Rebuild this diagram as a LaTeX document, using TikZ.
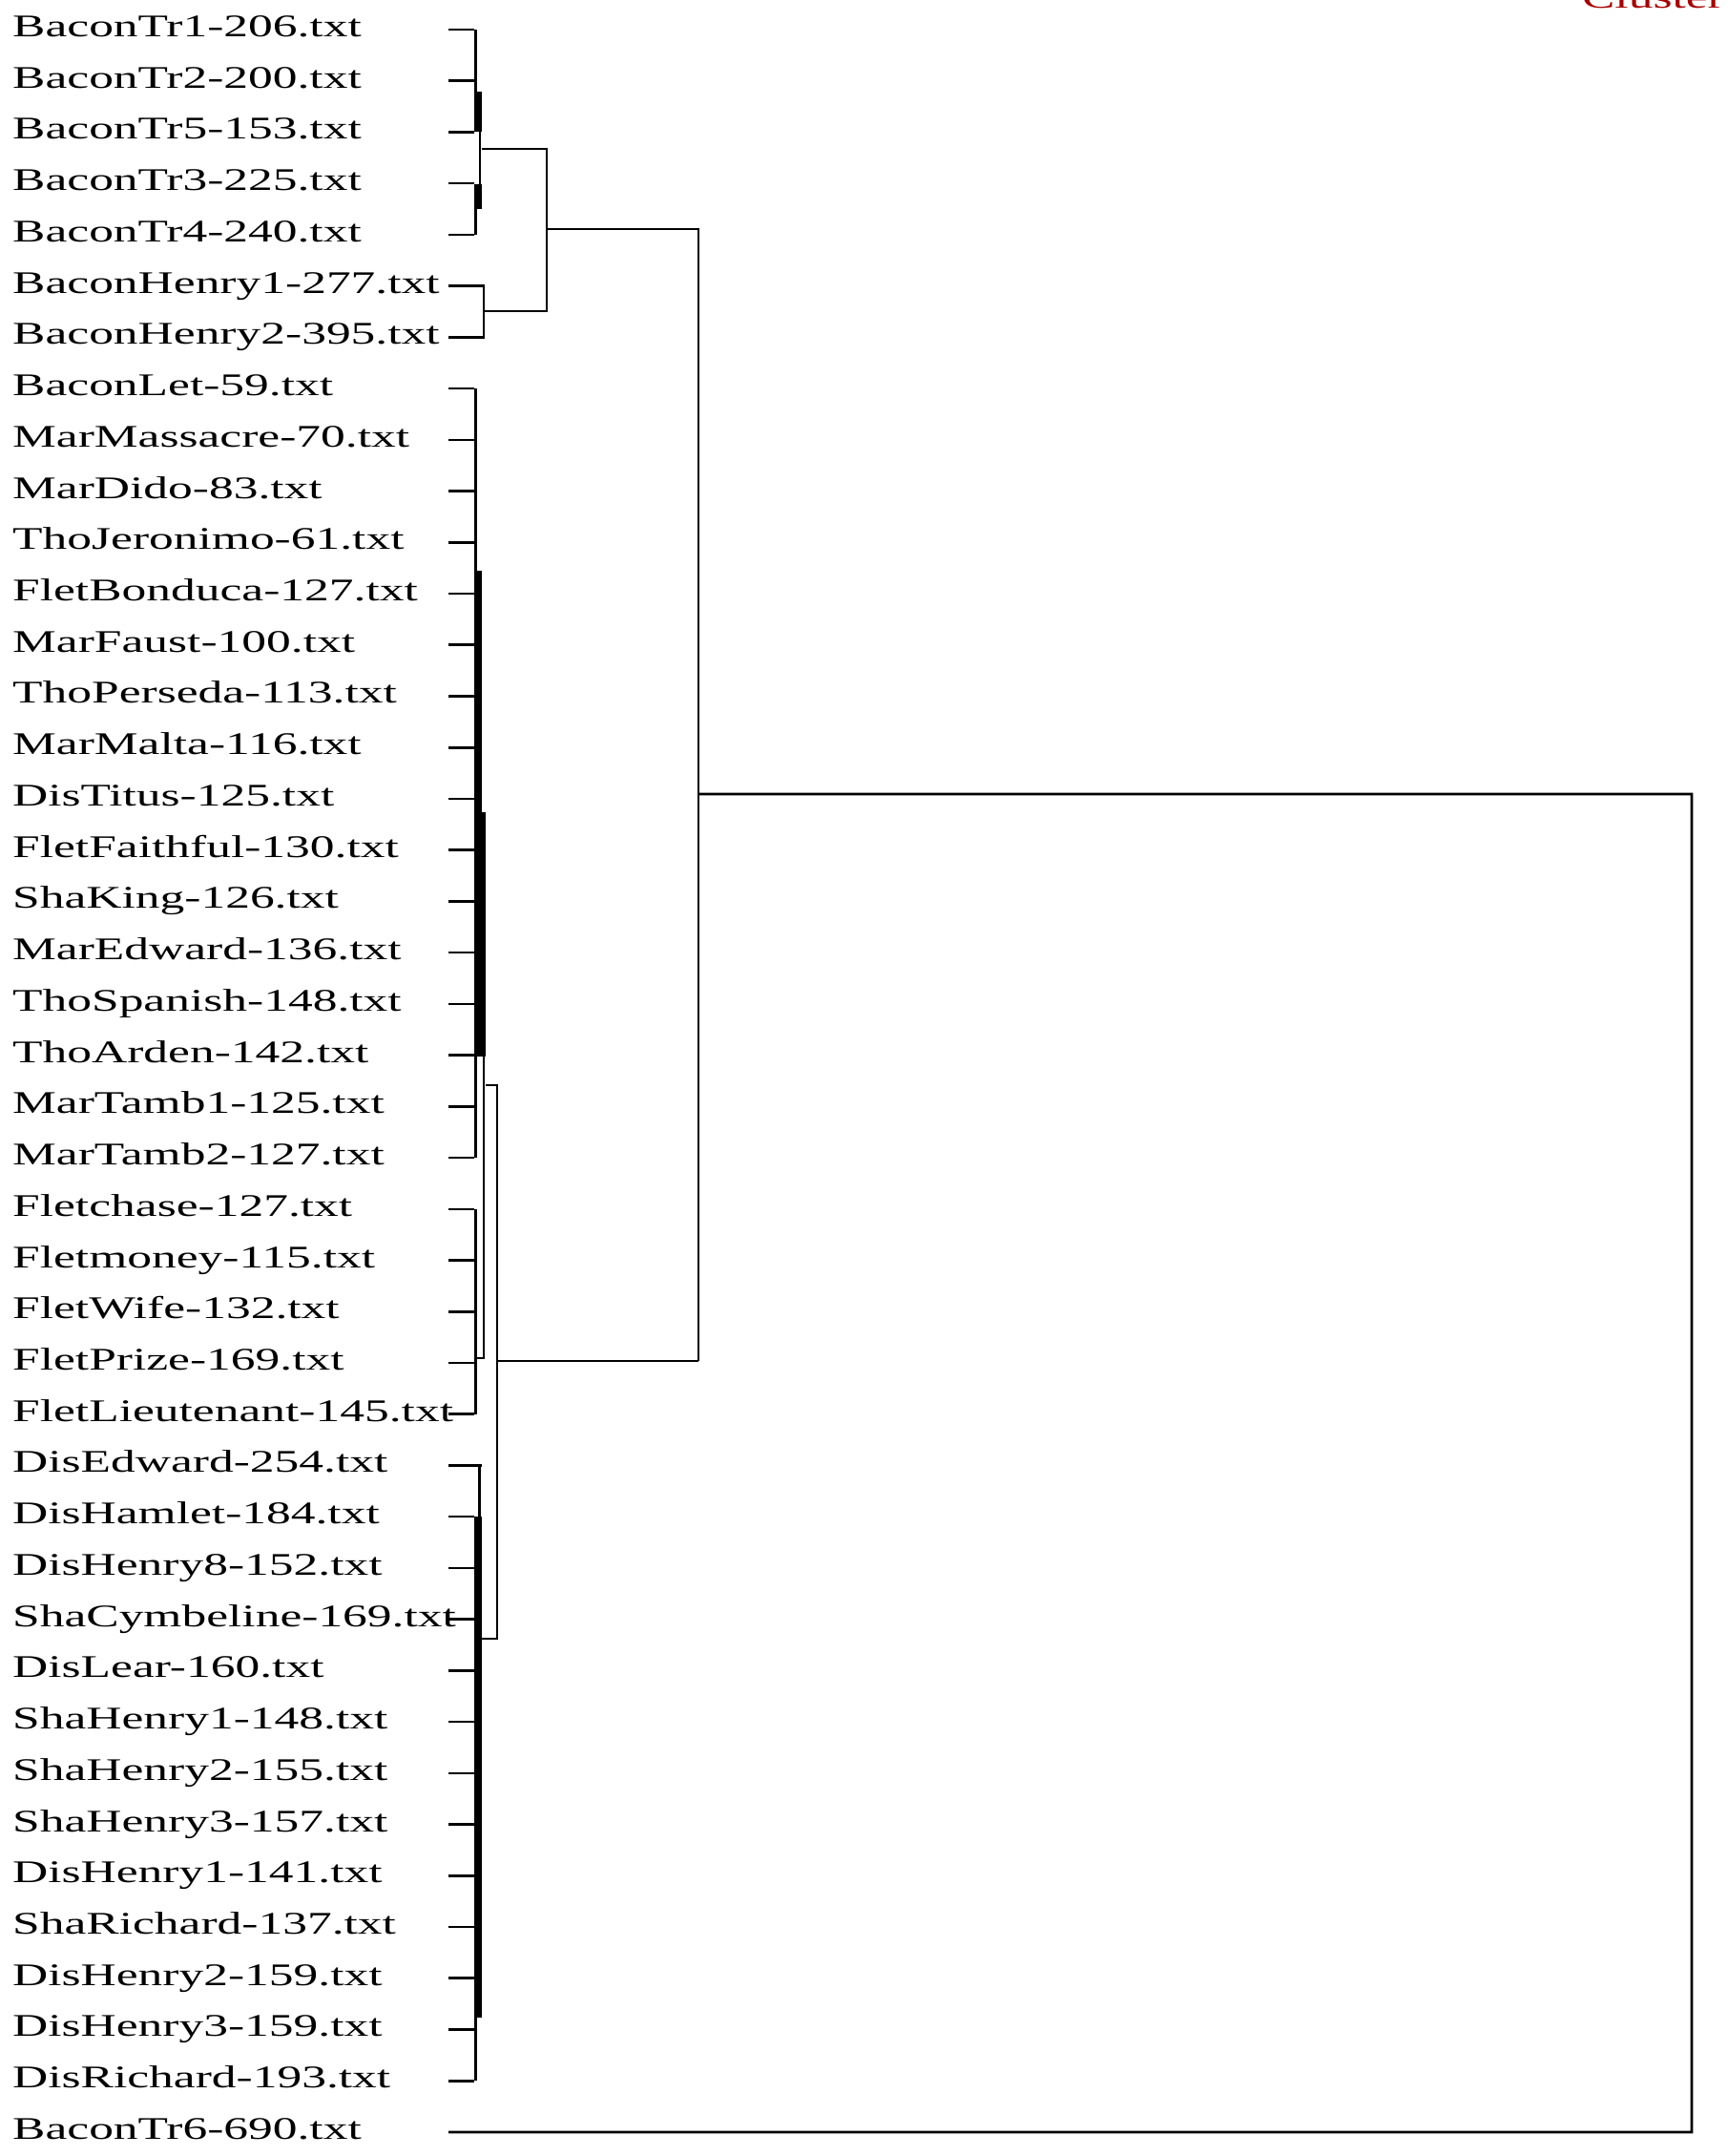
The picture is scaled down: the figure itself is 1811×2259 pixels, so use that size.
\documentclass[tikz,border=0pt]{standalone}
\usepackage{fontspec}
\newfontfamily\labfont{Liberation Serif}
\tikzset{
  lab/.style={inner sep=0pt, anchor=base west, font=\labfont\fontsize{33}{33}\selectfont},
  br/.style={line width=2.6pt, line join=miter},
  barfill/.style={fill=black}
}
\newcommand{\stretchtxt}[1]{\scalebox{1.56}[1]{#1}}
\begin{document}
\begin{tikzpicture}[x=1pt,y=-1pt]
\useasboundingbox (0,0) rectangle (1811,2259);
% labels
\foreach \t [count=\i] in {BaconTr1-206.txt,BaconTr2-200.txt,BaconTr5-153.txt,BaconTr3-225.txt,BaconTr4-240.txt,BaconHenry1-277.txt,BaconHenry2-395.txt,BaconLet-59.txt,MarMassacre-70.txt,MarDido-83.txt,ThoJeronimo-61.txt,FletBonduca-127.txt,MarFaust-100.txt,ThoPerseda-113.txt,MarMalta-116.txt,DisTitus-125.txt,FletFaithful-130.txt,ShaKing-126.txt,MarEdward-136.txt,ThoSpanish-148.txt,ThoArden-142.txt,MarTamb1-125.txt,MarTamb2-127.txt,Fletchase-127.txt,Fletmoney-115.txt,FletWife-132.txt,FletPrize-169.txt,FletLieutenant-145.txt,DisEdward-254.txt,DisHamlet-184.txt,DisHenry8-152.txt,ShaCymbeline-169.txt,DisLear-160.txt,ShaHenry1-148.txt,ShaHenry2-155.txt,ShaHenry3-157.txt,DisHenry1-141.txt,ShaRichard-137.txt,DisHenry2-159.txt,DisHenry3-159.txt,DisRichard-193.txt,BaconTr6-690.txt}{
  \pgfmathsetmacro\yy{31+(\i-1)*53.73}
  \node[lab] (t\i) at (13,\yy+7.5) {\stretchtxt{\t}};
  \coordinate (e\i) at (470,\yy);
}
% red cropped title (cut off at the top edge, as in the reference)
\node[lab, anchor=base east, text=red!65!black] (title) at (1807,9) {\stretchtxt{Cluster}};
% leaf stubs
\foreach \i in {1,...,5,8,9,...,28,30,31,...,41}{
  \draw[br] (e\i) -- ++(27,0);
}
\draw[br] (e6) -- (e6 -| 507,0) -- (e7 -| 507,0) -- (e7);
\draw[br] (e29) -- (e29 -| 505,0);
% top cluster
\draw[br] (e1 -| 498.5,0) -- (498.5,96);
\fill[barfill] (497,96) rectangle (505,138);
\draw[br] (503,138) -- (503,193);
\fill[barfill] (497,193) rectangle (505,219);
\draw[br] (498.5,219) -- (e5 -| 498.5,0);
\coordinate (jA) at (505,156);
\coordinate (jH) at (507,326);
\coordinate (j1) at (573,156);
\coordinate (j2) at (573,326);
\draw[br] (jA) -- (j1) -- (j2) -- (jH);
\coordinate (jB) at (573,240);
\coordinate (jR) at (732,240);
\coordinate (jL) at (732,1426);
\draw[br] (jB) -- (jR) -- (jL);
% root
\coordinate (r1) at (732,832);
\coordinate (r2) at (1773,832);
\coordinate (r3) at (1773,2234);
\draw[br] (r1) -- (r2) -- (r3) -- (e42);
% cluster A
\draw[br] (e8 -| 498.5,0) -- (498.5,598);
\fill[barfill] (497,598) rectangle (505,851);
\fill[barfill] (497,851) rectangle (509,1107);
\draw[br] (498.5,1107) -- (e23 -| 498.5,0);
\draw[br] (507,1107) -- (507,1423) -- (498.5,1423);
\draw[br] (e24 -| 498.5,0) -- (e28 -| 498.5,0);
\coordinate (m1) at (509,1137);
\coordinate (m2) at (521,1137);
\coordinate (m3) at (521,1717);
\coordinate (m4) at (505,1717);
\draw[br] (m1) -- (m2) -- (m3) -- (m4);
\draw[br] (521,1426) -- (jL);
% cluster B
\draw[br] (e29 -| 502.5,0) -- (e30 -| 502.5,0);
\fill[barfill] (497,1589) rectangle (505,2114);
\draw[br] (498.5,2114) -- (e41 -| 498.5,0);
\end{tikzpicture}
\end{document}
